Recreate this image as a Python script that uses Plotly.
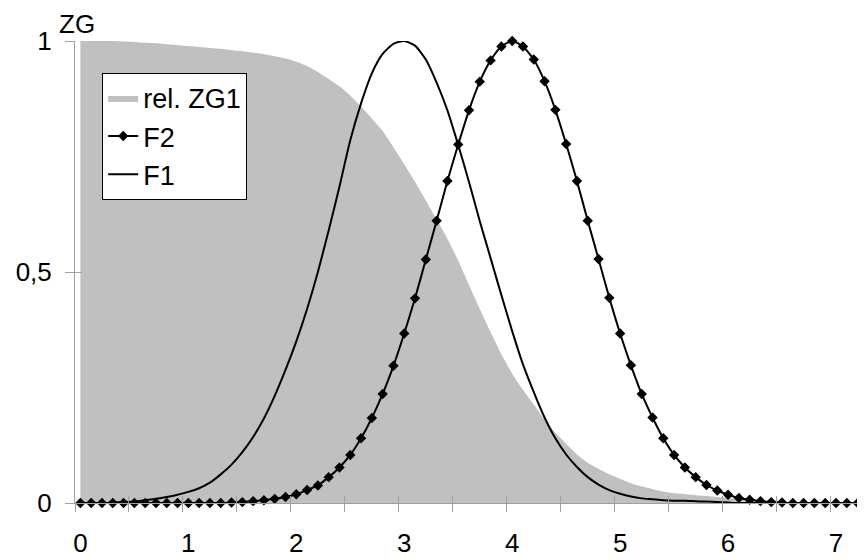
import plotly.graph_objects as go

# Category values (x) 0.0 .. 7.2 in steps of 0.1
x_vals = [0.0, 0.1, 0.2, 0.3, 0.4, 0.5, 0.6, 0.7, 0.8, 0.9,
          1.0, 1.1, 1.2, 1.3, 1.4, 1.5, 1.6, 1.7, 1.8, 1.9,
          2.0, 2.1, 2.2, 2.3, 2.4, 2.5, 2.6, 2.7, 2.8, 2.9,
          3.0, 3.1, 3.2, 3.3, 3.4, 3.5, 3.6, 3.7, 3.8, 3.9,
          4.0, 4.1, 4.2, 4.3, 4.4, 4.5, 4.6, 4.7, 4.8, 4.9,
          5.0, 5.1, 5.2, 5.3, 5.4, 5.5, 5.6, 5.7, 5.8, 5.9,
          6.0, 6.1, 6.2, 6.3, 6.4, 6.5, 6.6, 6.7, 6.8, 6.9,
          7.0, 7.1, 7.2]

rel_zg1 = [1.0, 1.0, 1.0, 1.0, 0.999, 0.998, 0.996, 0.995, 0.993, 0.991,
           0.989, 0.987, 0.985, 0.983, 0.98, 0.978, 0.975, 0.972, 0.967, 0.962,
           0.955, 0.946, 0.933, 0.918, 0.902, 0.882, 0.858, 0.832, 0.805, 0.77,
           0.733, 0.695, 0.655, 0.614, 0.572, 0.525, 0.472, 0.42, 0.37, 0.322,
           0.28, 0.245, 0.213, 0.18, 0.152, 0.128, 0.105, 0.087, 0.074, 0.062,
           0.052, 0.043, 0.036, 0.03, 0.025, 0.021, 0.019, 0.017, 0.015, 0.013,
           0.011, 0.009, 0.007, 0.005, 0.003, 0.002, 0.001, 0.0, 0.0, 0.0,
           0.0, 0.0, 0.0]

f2 = [0.0, 0.0, 0.0, 0.0, 0.0, 0.0, 0.0, 0.0, 0.0, 0.0,
      0.0, 0.0, 0.0, 0.0, 0.001, 0.002, 0.004, 0.006, 0.009, 0.013,
      0.019, 0.028, 0.038, 0.056, 0.077, 0.104, 0.14, 0.184, 0.236, 0.297,
      0.367, 0.443, 0.527, 0.611, 0.697, 0.776, 0.85, 0.912, 0.958, 0.988,
      1.0, 0.988, 0.96, 0.913, 0.851, 0.777, 0.697, 0.611, 0.528, 0.444,
      0.367, 0.298, 0.236, 0.185, 0.14, 0.104, 0.077, 0.056, 0.039, 0.027,
      0.018, 0.011, 0.007, 0.004, 0.002, 0.001, 0.0, 0.0, 0.0, 0.0,
      0.0, 0.0, 0.0]

f1 = [0.0, 0.0, 0.0, 0.001, 0.002, 0.003, 0.006, 0.009, 0.013, 0.018,
      0.024, 0.032, 0.044, 0.062, 0.083, 0.11, 0.143, 0.183, 0.232, 0.288,
      0.35, 0.42, 0.5, 0.59, 0.685, 0.785, 0.865, 0.93, 0.972, 0.994,
      1.0, 0.99, 0.96, 0.91, 0.85, 0.775, 0.695, 0.61, 0.53, 0.45,
      0.372, 0.3, 0.24, 0.185, 0.14, 0.105, 0.078, 0.056, 0.04, 0.028,
      0.02, 0.014, 0.01, 0.008, 0.006, 0.005, 0.005, 0.004, 0.003, 0.002,
      0.001, 0.0, 0.0, 0.0, 0.0, 0.0, 0.0, 0.0, 0.0, 0.0,
      0.0, 0.0, 0.0]

x_label_vals = [0, 1, 2, 3, 4, 5, 6, 7]
x_tick_marks = [-0.05, 0.45, 0.95, 1.45, 1.95, 2.45, 2.95, 3.45, 3.95,
                4.45, 4.95, 5.45, 5.95, 6.45, 6.95]
y_tick_vals = [0, 0.5, 1]
y_tick_text = ["0", "0,5", "1"]

FONT = "Liberation Sans, Arial, sans-serif"
FS = 26
AXIS_GRAY = "#a0a0a0"
X_RANGE = [-0.05, 7.25]
Y_RANGE = [0, 1]

fig = go.Figure()

fig.add_trace(go.Scatter(
    x=x_vals, y=rel_zg1, name="rel. ZG1", mode="lines",
    line=dict(width=0, color="#c0c0c0", shape="spline", smoothing=0.5),
    fill="tozeroy", fillcolor="#c0c0c0", hoverinfo="skip"))

fig.add_trace(go.Scatter(
    x=x_vals, y=f2, name="F2", mode="lines+markers",
    line=dict(color="black", width=2, shape="spline", smoothing=0.6),
    marker=dict(symbol="diamond", size=8, color="black"),
    cliponaxis=False))

fig.add_trace(go.Scatter(
    x=x_vals, y=f1, name="F1", mode="lines",
    line=dict(color="black", width=2, shape="spline", smoothing=0.6),
    cliponaxis=False))

# dummy trace for the overlay axes carrying inside tick marks
fig.add_trace(go.Scatter(x=[None], y=[None], xaxis="x2", yaxis="y2",
                         showlegend=False, hoverinfo="skip"))

fig.update_layout(
    width=857, height=552,
    margin=dict(l=67, r=2, t=32.5, b=54),
    paper_bgcolor="white", plot_bgcolor="white",
    font=dict(family=FONT, size=FS, color="black"),
    showlegend=True,
    legend=dict(x=0.0345, y=0.931, xanchor="left", yanchor="top",
                bgcolor="white", bordercolor="black", borderwidth=1,
                font=dict(family=FONT, size=27, color="black"),
                tracegroupgap=0, itemwidth=30),
    xaxis=dict(range=X_RANGE, showgrid=False, zeroline=False,
               showline=True, linecolor=AXIS_GRAY, linewidth=1,
               tickmode="array", tickvals=x_label_vals,
               ticktext=[str(v) for v in x_label_vals],
               ticks="", ticklabelstandoff=17,
               minor=dict(tick0=-0.05, dtick=0.5, ticks="outside",
                          ticklen=8, tickcolor=AXIS_GRAY, tickwidth=1,
                          showgrid=False)),
    yaxis=dict(range=Y_RANGE, showgrid=False, zeroline=False,
               showline=True, linecolor=AXIS_GRAY, linewidth=1,
               tickmode="array", tickvals=y_tick_vals, ticktext=y_tick_text,
               ticks="outside", ticklen=9, tickcolor=AXIS_GRAY,
               ticklabelstandoff=8),
    xaxis2=dict(range=X_RANGE, overlaying="x", showgrid=False,
                zeroline=False, showline=False, tickmode="array",
                tickvals=x_tick_marks, ticks="inside", ticklen=7,
                tickcolor=AXIS_GRAY, showticklabels=False),
    yaxis2=dict(range=Y_RANGE, overlaying="y", showgrid=False,
                zeroline=False, showline=False, tickmode="array",
                tickvals=y_tick_vals, ticks="inside", ticklen=7,
                tickcolor=AXIS_GRAY, showticklabels=False),
    annotations=[dict(text="ZG", xref="paper", yref="paper",
                      x=0.0025, y=1.0365, xanchor="center", yanchor="middle",
                      showarrow=False,
                      font=dict(family=FONT, size=FS, color="black"))],
)

fig.write_html("out.html")
